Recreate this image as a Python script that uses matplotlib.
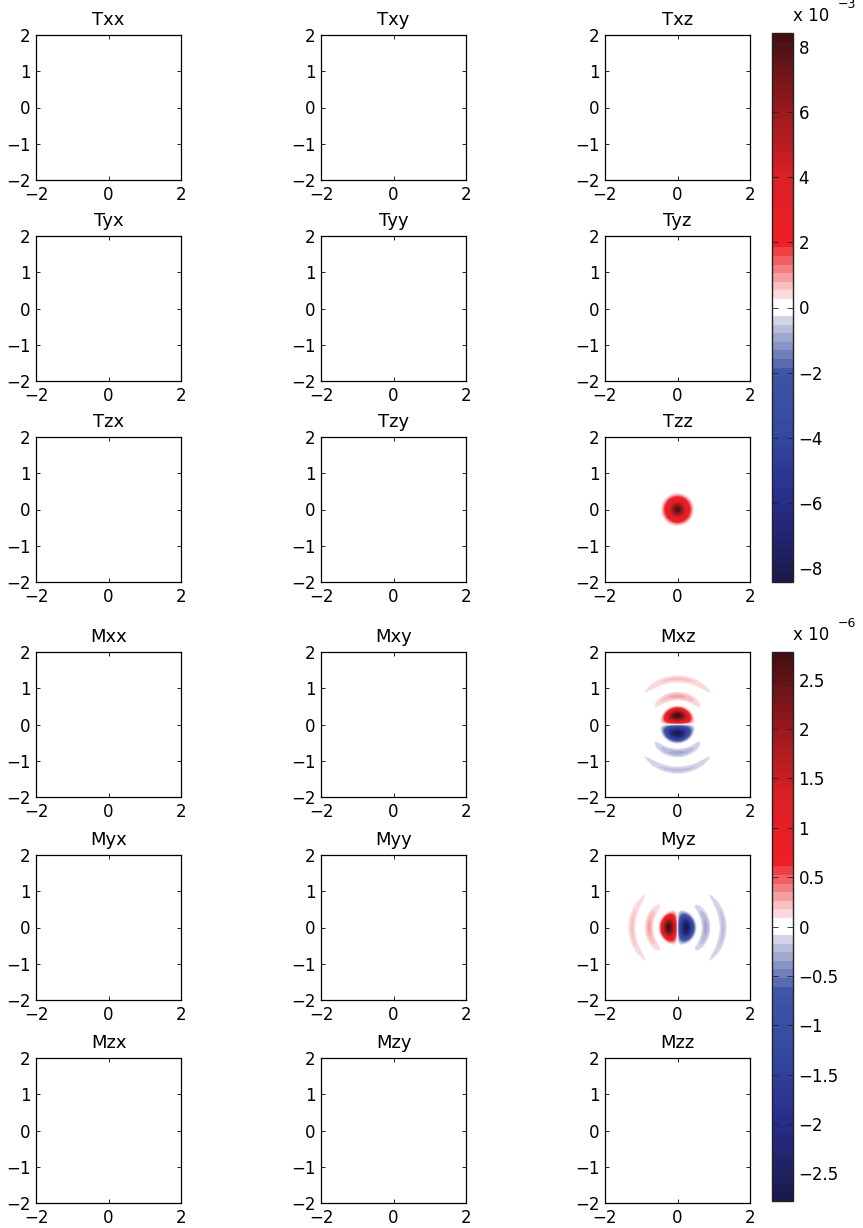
import numpy as np
import matplotlib
matplotlib.use("Agg")
import matplotlib.pyplot as plt
from matplotlib.colors import LinearSegmentedColormap, Normalize

# ---------------- data ----------------
T_titles = ["Txx", "Txy", "Txz", "Tyx", "Tyy", "Tyz", "Tzx", "Tzy", "Tzz"]
M_titles = ["Mxx", "Mxy", "Mxz", "Myx", "Myy", "Myz", "Mzx", "Mzy", "Mzz"]

# colour limits (in units of the multiplier)
T_lim = 8.42      # x 10^-3
M_lim = 2.78      # x 10^-6
T_ticks = [-8, -6, -4, -2, 0, 2, 4, 6, 8]
M_ticks = [-2.5, -2, -1.5, -1, -0.5, 0, 0.5, 1, 1.5, 2, 2.5]
T_exp = "\u22123"
M_exp = "\u22126"

# Tzz: radial profile of the blob (x 10^-3)
tzz_r = [0.0, 0.1, 0.2, 0.3, 0.36, 0.41, 0.46, 0.5]
tzz_v = [8.4, 6.8, 4.4, 2.6, 1.7, 0.8, 0.2, 0.0]

# Mxz / Myz: dipole lobe radial profile (x 10^-6)
lobe_r = [0.0, 0.1, 0.2, 0.25, 0.3, 0.4, 0.45, 0.5, 0.55]
lobe_v = [0.0, 1.7, 2.6, 2.78, 2.6, 1.5, 0.8, 0.2, 0.0]
# faint outer arcs radial profile (x 10^-6)
ring_r = [0.6, 0.68, 0.74, 0.8, 0.86, 0.94, 1.12, 1.2, 1.27, 1.34, 1.42]
ring_v = [0.0, 0.1, 0.26, 0.3, 0.2, 0.0, 0.0, 0.15, 0.22, 0.11, 0.0]
ring_power = 2.5

# ---------------- colormap ----------------
anchors = [
    (0.000, (25, 25, 75)),
    (0.025, (30, 30, 90)),
    (0.145, (40, 45, 140)),
    (0.262, (52, 72, 158)),
    (0.380, (62, 86, 165)),
    (0.470, (200, 200, 225)),
    (0.484, (228, 228, 242)),
    (0.485, (255, 255, 255)),
    (0.515, (255, 255, 255)),
    (0.516, (252, 226, 229)),
    (0.530, (250, 210, 212)),
    (0.620, (237, 30, 36)),
    (0.738, (220, 32, 38)),
    (0.855, (160, 26, 30)),
    (0.975, (85, 18, 20)),
    (1.000, (70, 15, 18)),
]
cmap = LinearSegmentedColormap.from_list(
    "rwb", [(p, tuple(c / 255 for c in col)) for p, col in anchors], N=64)

# ---------------- fields ----------------
n = 301
g = np.linspace(-2, 2, n)
X, Y = np.meshgrid(g, g)
R = np.hypot(X, Y)
Rs = np.where(R == 0, 1e-9, R)

zero = np.zeros_like(X)
tzz = np.interp(R, tzz_r, tzz_v, right=0.0)


def dipole(cosang):
    lobe = np.interp(R, lobe_r, lobe_v, left=0.0, right=0.0) * cosang
    ring = (np.interp(R, ring_r, ring_v, left=0.0, right=0.0)
            * np.sign(cosang) * np.abs(cosang) ** ring_power)
    return lobe + ring


mxz = dipole(Y / Rs)
myz = dipole(-X / Rs)

T_fields = [zero] * 8 + [tzz]
M_fields = [zero, zero, mxz, zero, zero, myz, zero, zero, zero]

# ---------------- layout ----------------
W, H = 863, 1228
fig = plt.figure(figsize=(W / 100, H / 100), dpi=100)
plt.rcParams["font.family"] = ["DejaVu Sans"]

col_left = [36, 321, 605]
row_top = [35, 236, 437, 652, 855, 1058]
size = 145
fs = 12


def add_ax(left, top, w, h):
    return fig.add_axes([left / W, 1 - (top + h) / H, w / W, h / H])


def draw_block(titles, fields, lim, row0):
    norm = Normalize(-lim, lim)
    im = None
    for k, (t, f) in enumerate(zip(titles, fields)):
        r, c = divmod(k, 3)
        ax = add_ax(col_left[c], row_top[row0 + r], size, size)
        im = ax.imshow(f, extent=[-2, 2, -2, 2], origin="lower", cmap=cmap,
                       norm=norm, interpolation="bilinear")
        ax.set_xlim(-2, 2)
        ax.set_ylim(-2, 2)
        ax.set_xticks([-2, 0, 2])
        ax.set_yticks([-2, -1, 0, 1, 2])
        ax.tick_params(direction="in", top=True, right=True, length=3,
                       width=0.6, labelsize=fs, pad=4)
        for s in ax.spines.values():
            s.set_linewidth(0.9)
        ax.set_title(t, fontsize=13, pad=7)
    return im, norm


def draw_cbar(im, top, bottom, ticks, exp):
    cax = add_ax(772, top, 21, bottom - top)
    cb = fig.colorbar(im, cax=cax, ticks=ticks)
    cb.ax.set_yticklabels([("%g" % v).replace("-", "\u2212") for v in ticks])
    cb.ax.tick_params(direction="in", left=True, right=True, length=4,
                      width=0.6, labelsize=fs, pad=4, colors="#222222",
                      labelcolor="black")
    cb.outline.set_linewidth(1.0)
    cb.outline.set_edgecolor("#222222")
    fig.text(793 / W, 1 - (top - 8) / H, "x 10", fontsize=fs,
             ha="left", va="bottom")
    fig.text(838 / W, 1 - (top - 22) / H, exp, fontsize=9,
             ha="left", va="bottom")


imT, _ = draw_block(T_titles, T_fields, T_lim, 0)
imM, _ = draw_block(M_titles, M_fields, M_lim, 3)
draw_cbar(imT, 33, 582, T_ticks, T_exp)
draw_cbar(imM, 652, 1201, M_ticks, M_exp)

fig.savefig("out.png", dpi=100)
